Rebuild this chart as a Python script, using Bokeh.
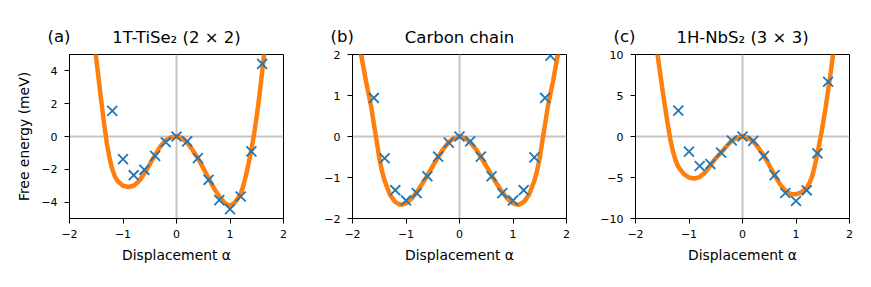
from bokeh.plotting import figure
from bokeh.layouts import row
from bokeh.models import Range1d, FixedTicker, CustomJSTickFormatter, Title
from bokeh.embed import file_html
from bokeh.resources import INLINE

# ---------------- data ----------------
# (a) 1T-TiSe2 (2x2)
a_x = [-1.2, -1.0, -0.8, -0.6, -0.4, -0.2, 0.0, 0.2, 0.4, 0.6, 0.8, 1.0, 1.2, 1.4, 1.6]
a_y = [1.56, -1.38, -2.36, -2.03, -1.18, -0.35, 0.0, -0.3, -1.32, -2.64, -3.88, -4.43, -3.66, -0.91, 4.43]
a_fit_x = [-1.55, -1.52, -1.5, -1.45, -1.4, -1.35, -1.3, -1.25, -1.2, -1.15, -1.1, -1.0, -0.9, -0.8,
           -0.7, -0.6, -0.5, -0.4, -0.3, -0.2, -0.1, 0.0, 0.1, 0.2, 0.3, 0.4, 0.5, 0.6, 0.7, 0.8,
           0.9, 1.0, 1.1, 1.2, 1.25, 1.3, 1.35, 1.4, 1.45, 1.5, 1.55, 1.6, 1.65]
a_fit_y = [6.2, 5.3, 4.75, 3.35, 2.0, 0.7, -0.45, -1.35, -2.0, -2.45, -2.72, -3.0, -3.08, -3.0,
           -2.72, -2.25, -1.7, -1.12, -0.6, -0.22, -0.04, 0.0, -0.08, -0.38, -0.82, -1.32, -1.93, -2.55, -3.15, -3.65,
           -4.05, -4.23, -4.0, -3.5, -3.0, -2.35, -1.6, -0.8, 0.15, 1.25, 2.5, 3.9, 5.4]

# (b) Carbon chain
b_x = [-1.6, -1.4, -1.2, -1.0, -0.8, -0.6, -0.4, -0.2, 0.0, 0.2, 0.4, 0.6, 0.8, 1.0, 1.2, 1.4, 1.6, 1.7]
b_y = [0.94, -0.53, -1.31, -1.56, -1.38, -0.97, -0.49, -0.15, 0.0, -0.12, -0.49, -0.97, -1.38, -1.56, -1.31, -0.51, 0.94, 1.97]
b_fit_x = [-1.88, -1.84, -1.8, -1.75, -1.7, -1.65, -1.6, -1.55, -1.5, -1.45, -1.4, -1.3, -1.2, -1.1, -1.0,
           -0.9, -0.8, -0.7, -0.6, -0.5, -0.4, -0.3, -0.2, -0.1, 0.0, 0.1, 0.2, 0.3, 0.4, 0.5, 0.6,
           0.7, 0.8, 0.9, 1.0, 1.1, 1.2, 1.3, 1.4, 1.45, 1.5, 1.55, 1.6, 1.65, 1.7, 1.75, 1.8, 1.84, 1.88]
b_fit_y = [2.3, 2.0, 1.72, 1.36, 1.05, 0.72, 0.3, -0.1, -0.52, -0.84, -1.08, -1.42, -1.6, -1.67, -1.63,
           -1.52, -1.36, -1.16, -0.95, -0.72, -0.5, -0.3, -0.14, -0.04, 0.0, -0.04, -0.14, -0.3, -0.5, -0.72, -0.95,
           -1.16, -1.36, -1.52, -1.63, -1.67, -1.6, -1.42, -1.08, -0.84, -0.52, -0.1, 0.3, 0.72, 1.05, 1.36, 1.72, 2.0, 2.3]

# (c) 1H-NbS2 (3x3)
c_x = [-1.2, -1.0, -0.8, -0.6, -0.4, -0.2, 0.0, 0.2, 0.4, 0.6, 0.8, 1.0, 1.2, 1.4, 1.6]
c_y = [3.16, -1.84, -3.6, -3.36, -1.97, -0.49, 0.0, -0.53, -2.38, -4.71, -6.89, -7.87, -6.56, -2.05, 6.68]
c_fit_x = [-1.62, -1.6, -1.55, -1.5, -1.45, -1.4, -1.35, -1.3, -1.25, -1.2, -1.1, -1.0, -0.9, -0.8,
           -0.7, -0.6, -0.5, -0.4, -0.3, -0.2, -0.1, 0.0, 0.1, 0.2, 0.3, 0.4, 0.5, 0.6, 0.7, 0.8,
           0.9, 1.0, 1.1, 1.2, 1.25, 1.3, 1.35, 1.4, 1.45, 1.5, 1.55, 1.6, 1.65, 1.7, 1.73]
c_fit_y = [11.6, 10.6, 8.2, 5.9, 3.7, 1.6, -0.3, -1.8, -2.9, -3.7, -4.55, -5.0, -5.12, -4.95,
           -4.4, -3.5, -2.65, -1.95, -1.2, -0.5, -0.12, 0.0, -0.15, -0.6, -1.4, -2.35, -3.5, -4.7, -5.8, -6.6,
           -7.0, -7.05, -6.8, -6.3, -5.7, -4.9, -3.6, -2.1, -0.4, 1.4, 3.4, 5.6, 7.9, 10.3, 11.7]

x_ticks = [-2, -1, 0, 1, 2]

panels = [
    dict(letter="(a)", title="1T-TiSe\u2082 (2 \u00d7 2)", x=a_x, y=a_y, fx=a_fit_x, fy=a_fit_y,
         yr=(-5, 5), yt=[-4, -2, 0, 2, 4], ylabel="Free energy (meV)"),
    dict(letter="(b)", title="Carbon chain", x=b_x, y=b_y, fx=b_fit_x, fy=b_fit_y,
         yr=(-2, 2), yt=[-2, -1, 0, 1, 2], ylabel=None),
    dict(letter="(c)", title="1H-NbS\u2082 (3 \u00d7 3)", x=c_x, y=c_y, fx=c_fit_x, fy=c_fit_y,
         yr=(-10, 10), yt=[-10, -5, 0, 5, 10], ylabel=None),
]

FONT = "DejaVu Sans"
fmt_code = "return String(tick).replace('-', '\u2212');"
FW, FH = 214, 164

figs = []
for i, pd_ in enumerate(panels):
    y0, y1 = pd_["yr"]
    left = 69 if i == 0 else 61
    p = figure(frame_width=FW, frame_height=FH,
               x_range=Range1d(-2, 2), y_range=Range1d(y0, y1),
               output_backend="svg", toolbar_location=None,
               min_border_left=left, min_border_right=8,
               min_border_top=54, min_border_bottom=58)
    p.background_fill_color = "white"
    p.border_fill_color = "white"
    p.outline_line_color = "black"
    p.outline_line_width = 1
    p.outline_line_alpha = 1

    # main title (outer panel); negative standoff brings it down onto the letter's line
    p.title.text = pd_["title"]
    p.title.align = "center"
    p.title.text_font = FONT
    p.title.text_font_size = "16.5px"
    p.title.text_font_style = "normal"
    p.title.text_color = "black"
    p.title.standoff = -63

    for ax in (p.xaxis[0], p.yaxis[0]):
        ax.major_label_text_font = FONT
        ax.major_label_text_font_size = "11px"
        ax.major_label_text_color = "black"
        ax.axis_label_text_font = FONT
        ax.axis_label_text_font_size = "13.9px"
        ax.axis_label_text_font_style = "normal"
        ax.axis_label_text_color = "black"
        ax.major_tick_out = 5
        ax.major_tick_in = 0
        ax.minor_tick_out = 0
        ax.minor_tick_in = 0
        ax.axis_line_color = "black"
        ax.major_tick_line_color = "black"
        ax.formatter = CustomJSTickFormatter(code=fmt_code)
    p.xaxis.major_label_standoff = 6
    p.yaxis.major_label_standoff = 7
    p.xaxis.ticker = FixedTicker(ticks=x_ticks)
    p.yaxis.ticker = FixedTicker(ticks=pd_["yt"])
    p.xaxis.axis_label = "Displacement \u03b1"
    p.xaxis.axis_label_standoff = 6
    if pd_["ylabel"]:
        p.yaxis.axis_label = pd_["ylabel"]
        p.yaxis.axis_label_standoff = 6

    p.xgrid.ticker = FixedTicker(ticks=[0])
    p.ygrid.ticker = FixedTicker(ticks=[0])
    for g in (p.xgrid[0], p.ygrid[0]):
        g.grid_line_color = "#c4c4c4"
        g.grid_line_width = 2

    p.line(pd_["fx"], pd_["fy"], line_color="#ff7f0e", line_width=4.5)
    p.scatter(pd_["x"], pd_["y"], marker="x", size=14, line_width=1.8, line_color="#1f77b4")

    # panel letter as a second title (inner panel, next to the frame)
    t = Title(text=pd_["letter"], align="left", offset=-22, text_font=FONT,
              text_font_size="16.5px", text_font_style="normal", text_color="black",
              standoff=18)
    p.add_layout(t, "above")
    figs.append(p)

layout = row(*figs)
open("out.html", "w").write(file_html(layout, INLINE))
